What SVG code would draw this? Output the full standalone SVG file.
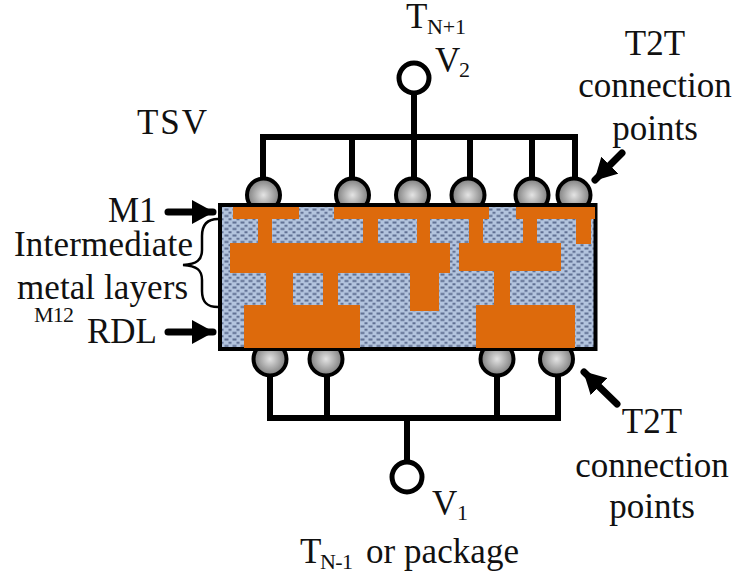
<svg xmlns="http://www.w3.org/2000/svg" width="736" height="576" viewBox="0 0 736 576">
<style>
.t{font-family:"Liberation Serif","Times New Roman",serif;font-size:35px;fill:#111}
.s{font-family:"Liberation Serif","Times New Roman",serif;font-size:22px;fill:#111}
.w{fill:none;stroke:#000;stroke-width:6}
.o{fill:#dd6a0c}
.b{fill:url(#ball);stroke:#000;stroke-width:4}
.a{fill:none;stroke:#000;stroke-width:7;stroke-linecap:round}
</style>
<defs>
<radialGradient id="ball"><stop offset="0" stop-color="#e4e4e4"/><stop offset="1" stop-color="#7c7c7c"/></radialGradient>
<pattern id="dots" width="8" height="6.5" patternUnits="userSpaceOnUse">
<rect width="8" height="6.5" fill="#b3c4de"/>
<rect x="0.5" y="0.5" width="4" height="2" fill="#5f6f92"/>
<rect x="4.5" y="3.8" width="3" height="2" fill="#5f6f92"/>
</pattern>
<marker id="ah" markerUnits="userSpaceOnUse" markerWidth="22" markerHeight="24" refX="21" refY="12" orient="auto"><path d="M0 0L22 12L0 24Z" fill="#000"/></marker>
</defs>
<g id="connectors">
<path class="w" d="M263 178V137H575V178M352 137V178M414 93V178M470 137V178M532 137V178"/>
<path class="w" d="M270 376V418H558V376M327 376V418M497 376V418M407 418V462"/>
<path class="a" d="M168 212H213" marker-end="url(#ah)"/>
<path class="a" d="M168 332H213" marker-end="url(#ah)"/>
<path class="a" d="M622 153L595 180" marker-end="url(#ah)"/>
<path class="a" d="M617 404L584 372" marker-end="url(#ah)"/>
<path fill="none" stroke="#000" stroke-width="2.500" d="M218 219C206 219 202 226 202 236V250C202 260 197 264 183 265C197 266 202 270 202 280V291C202 301 206 307 218 307"/>
</g>
<g id="terminal-top"><circle cx="414" cy="78" r="15" fill="#fff" stroke="#000" stroke-width="5"/></g>
<g id="terminal-bottom"><circle cx="407" cy="477" r="15" fill="#fff" stroke="#000" stroke-width="5"/></g>
<g id="balls-top">
<circle class="b" cx="263.500" cy="195" r="16.500"/><circle class="b" cx="352.500" cy="195" r="16.500"/><circle class="b" cx="412.500" cy="195" r="16.500"/><circle class="b" cx="468" cy="195" r="16.500"/><circle class="b" cx="532" cy="195" r="16.500"/><circle class="b" cx="574" cy="195" r="16.500"/>
</g>
<g id="balls-bottom">
<circle class="b" cx="270" cy="359" r="16.500"/><circle class="b" cx="326" cy="359" r="16.500"/><circle class="b" cx="497" cy="359" r="16.500"/><circle class="b" cx="556.500" cy="359" r="16.500"/>
</g>
<g id="die">
<rect x="220" y="205" width="375.500" height="144" fill="url(#dots)" stroke="#000" stroke-width="4"/>
<g class="o">
<rect x="233" y="207" width="66" height="12"/><rect x="334" y="207" width="155" height="12"/><rect x="516" y="207" width="79" height="12"/>
<rect x="258" y="219" width="14" height="24"/><rect x="363" y="219" width="15" height="24"/><rect x="417" y="219" width="13" height="24"/><rect x="469" y="219" width="14" height="24"/><rect x="523" y="219" width="14" height="24"/><rect x="576" y="219" width="15" height="25"/>
<rect x="230" y="243" width="220" height="30"/><rect x="459" y="243" width="102" height="28"/>
<rect x="266" y="273" width="27" height="32"/><rect x="323" y="273" width="15" height="32"/><rect x="410" y="273" width="29" height="38"/><rect x="494" y="271" width="16" height="34"/>
<rect x="244" y="305" width="116" height="43"/><rect x="476" y="305" width="99" height="43"/>
</g>
</g>
<g id="labels">
<text class="t" x="406" y="28">T</text><text class="s" x="427" y="34" textLength="39">N+1</text>
<text class="t" x="435" y="72">V</text><text class="s" x="459" y="77">2</text>
<text class="t" x="137" y="134" textLength="70">TSV</text>
<text class="t" x="655" y="55" text-anchor="middle">T2T</text>
<text class="t" x="655" y="97" text-anchor="middle">connection</text>
<text class="t" x="655" y="140" text-anchor="middle">points</text>
<text class="t" x="108" y="222">M1</text>
<text class="t" x="14" y="256" textLength="179">Intermediate</text>
<text class="t" x="17" y="299" textLength="171">metal layers</text>
<text class="s" x="34" y="322" textLength="40">M12</text>
<text class="t" x="87" y="343" textLength="70">RDL</text>
<text class="t" x="652" y="433" text-anchor="middle">T2T</text>
<text class="t" x="652" y="477" text-anchor="middle">connection</text>
<text class="t" x="652" y="518" text-anchor="middle">points</text>
<text class="t" x="432" y="515">V</text><text class="s" x="457" y="520">1</text>
<text class="t" x="300" y="563">T</text><text class="s" x="320" y="569" textLength="33">N-1</text><text class="t" x="366" y="563" textLength="153">or package</text>
</g>
</svg>
